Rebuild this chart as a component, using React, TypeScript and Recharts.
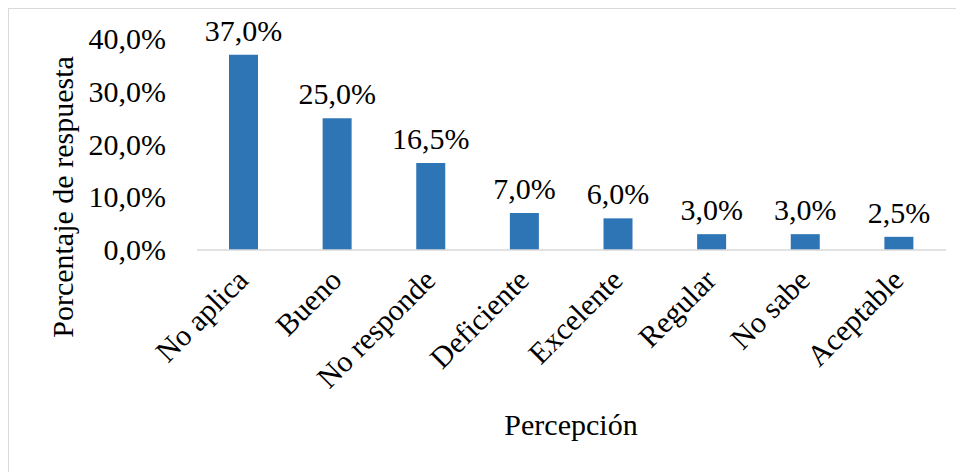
import { BarChart, Bar, XAxis, YAxis, LabelList } from "recharts";

const categories = ["No aplica", "Bueno", "No responde", "Deficiente", "Excelente", "Regular", "No sabe", "Aceptable"];
const porcentajes = [37.0, 25.0, 16.5, 7.0, 6.0, 3.0, 3.0, 2.5];
const yTicks = [0, 10, 20, 30, 40];

const data = categories.map((c, i) => ({ categoria: c, valor: porcentajes[i] }));

const FONT = "'Liberation Serif', 'Times New Roman', Times, serif";
const textStyle = { fontFamily: FONT, fontSize: 30 };
const fmt = (n: number) => n.toFixed(1).replace(".", ",") + "%";

function XTick({ x, y, payload }: { x?: number; y?: number; payload?: { value: string } }) {
  const ax = (x ?? 0) + 6;
  const ay = (y ?? 0) + 32;
  return (
    <text x={ax} y={ay} transform={`rotate(-45 ${ax} ${ay})`} textAnchor="end" fill="#000" style={textStyle}>
      {payload?.value}
    </text>
  );
}

function YTick({ x, y, payload }: { x?: number; y?: number; payload?: { value: number } }) {
  return (
    <text x={x} y={(y ?? 0) + 10} textAnchor="end" fill="#000" style={textStyle}>
      {fmt(payload?.value ?? 0)}
    </text>
  );
}

function TopLabel(props: { x?: number; y?: number; width?: number; value?: number }) {
  const { x = 0, y = 0, width = 0, value = 0 } = props;
  return (
    <text x={x + width / 2} y={y - 14} textAnchor="middle" fill="#000" style={textStyle}>
      {fmt(Number(value))}
    </text>
  );
}

export default function App() {
  return (
    <div
      style={{
        width: 956,
        height: 464,
        borderTop: "1px solid #d9d9d9",
        borderLeft: "1px solid #d9d9d9",
        background: "#fff",
        fontFamily: FONT,
      }}
    >
      <BarChart width={955} height={463} data={data} margin={{ top: 30, right: 18, left: 0, bottom: 0 }}>
        <XAxis
          dataKey="categoria"
          interval={0}
          height={222}
          tickSize={0}
          tickMargin={0}
          tickLine={false}
          axisLine={{ stroke: "#d9d9d9", strokeWidth: 1.5 }}
          tick={<XTick />}
          label={{
            content: () => (
              <text x={562} y={426} textAnchor="middle" fill="#000" style={textStyle}>
                Percepción
              </text>
            ),
          }}
        />
        <YAxis
          domain={[0, 40]}
          ticks={yTicks}
          width={188}
          tickSize={0}
          tickMargin={31}
          axisLine={false}
          tickLine={false}
          tick={<YTick />}
          label={{
            content: () => (
              <text x={64} y={188} transform="rotate(-90 64 188)" textAnchor="middle" fill="#000" style={textStyle}>
                Porcentaje de respuesta
              </text>
            ),
          }}
        />
        <Bar dataKey="valor" fill="#2E75B6" barSize={29} isAnimationActive={false}>
          <LabelList dataKey="valor" content={<TopLabel />} />
        </Bar>
      </BarChart>
    </div>
  );
}
